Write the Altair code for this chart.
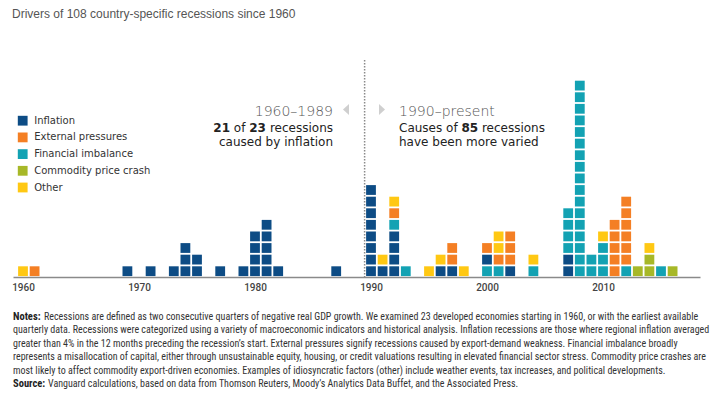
import altair as alt
import pandas as pd

# ---- data ----
drivers = ["Inflation", "External pressures", "Financial imbalance",
           "Commodity price crash", "Other"]
driver_codes = ["I", "E", "F", "C", "O"]
driver_colors = ["#0D4C85", "#F47F24", "#13A2B3", "#A7B828", "#FFC813"]

years = [1960, 1961, 1969, 1971, 1973, 1974, 1975, 1977, 1979, 1980, 1981,
         1982, 1987, 1990, 1991, 1992, 1993, 1995, 1996, 1997, 1998, 2000,
         2001, 2002, 2004, 2007, 2008, 2009, 2010, 2011, 2012, 2013, 2014,
         2015, 2016]
# recessions per year, bottom to top (codes above)
stacks = ["O", "E", "I", "I", "I", "III", "II", "I", "I", "IIII", "IIIII",
          "I", "I", "IIIIIIII", "IO", "IIIIFEO", "F", "O", "IO", "IEE", "O",
          "FIE", "FEOO", "IEEE", "FO", "IIFFFF", "FFFFFFFFFFFFFFFFF", "FF",
          "FFFO", "EEEEE", "FEEEEEE", "C", "CCO", "F", "C"]

tick_years = [1960, 1970, 1980, 1990, 2000, 2010]
era_split = [1989.45]

title_text = "Drivers of 108 country-specific recessions since 1960"
notes_lines = [
    "quarterly data. Recessions were categorized using a variety of macroeconomic indicators and historical analysis. Inflation recessions are those where regional inflation averaged",
    "greater than 4% in the 12 months preceding the recession\u2019s start. External pressures signify recessions caused by export-demand weakness. Financial imbalance broadly",
    "represents a misallocation of capital, either through unsustainable equity, housing, or credit valuations resulting in elevated financial sector stress. Commodity price crashes are",
    "most likely to affect commodity export-driven economies. Examples of idiosyncratic factors (other) include weather events, tax increases, and political developments.",
]
notes_first = "Recessions are defined as two consecutive quarters of negative real GDP growth. We examined 23 developed economies starting in 1960, or with the earliest available"
source_text = "Vanguard calculations, based on data from Thomson Reuters, Moody\u2019s Analytics Data Buffet, and the Associated Press."

# ---- build table ----
code_to_name = dict(zip(driver_codes, drivers))
rows = []
for yr, s in zip(years, stacks):
    for k, c in enumerate(s):
        rows.append({"year": yr, "level": k + 0.5, "driver": code_to_name[c]})
df = pd.DataFrame(rows)

PX_PER_YEAR = 11.6
PLOT_W, PLOT_H = 687, 269
x_dom = [1960 - 10 / PX_PER_YEAR, 1960 + 677 / PX_PER_YEAR]
y_dom = [0, PLOT_H / PX_PER_YEAR]

xscale = alt.Scale(domain=x_dom, nice=False, zero=False)

squares = alt.Chart(df).mark_square(size=96, opacity=1, filled=True).encode(
    x=alt.X("year:Q", scale=xscale,
            axis=alt.Axis(values=tick_years, format="d", ticks=False, grid=False,
                          domainColor="#8a8a8a", domainWidth=1.5,
                          labelFont="Roboto", labelFontWeight=500,
                          labelFontSize=10, labelColor="#444", labelPadding=5,
                          labelFlush=False, title=None)),
    y=alt.Y("level:Q", scale=alt.Scale(domain=y_dom, nice=False, zero=False),
            axis=None),
    color=alt.Color("driver:N",
                    scale=alt.Scale(domain=drivers, range=driver_colors),
                    legend=alt.Legend(orient="none", legendX=4.7, legendY=107.7,
                                      title=None, symbolType="square",
                                      symbolSize=96, labelFont="DejaVu Sans",
                                      labelFontSize=10, labelColor="#333",
                                      rowPadding=6.7, labelOffset=6.5,
                                      padding=0, symbolOpacity=1,
                                      symbolStrokeWidth=0)),
)

divider = alt.Chart(pd.DataFrame({"year": era_split})).mark_rule(
    color="#8a8a8a", strokeWidth=1.5, strokeDash=[1.5, 1.5]
).encode(x=alt.X("year:Q", scale=xscale), y=alt.value(52), y2=alt.value(PLOT_H))


def txt(s, x, y, size=12, weight="normal", color="#222", align="left",
        font="DejaVu Sans"):
    return alt.Chart(pd.DataFrame({"t": [s]})).mark_text(
        align=align, baseline="alphabetic", fontSize=size, fontWeight=weight,
        color=color, font=font
    ).encode(text="t:N", x=alt.value(x), y=alt.value(y))


def tri(path, x, y):
    return alt.Chart(pd.DataFrame({"t": [0]})).mark_point(
        shape=path, size=121, filled=True, opacity=1, color="#cfcfcf",
        strokeWidth=0
    ).encode(x=alt.value(x), y=alt.value(y))


layers = [squares, divider]
layers.append(txt(title_text, -1, 10, size=12, color="#555",
                  font="Liberation Sans"))
# left era annotation
layers.append(txt("1960\u20131989", 320, 108, size=14, color="#555",
                  weight=300, align="right"))
layers.append(txt("21", 217.0, 124, weight="bold", align="right"))
layers.append(txt("of", 232.4, 124, align="right"))
layers.append(txt("23", 252.9, 124, weight="bold", align="right"))
layers.append(txt("recessions", 320, 124, align="right"))
layers.append(txt("caused by inflation", 320, 138, align="right"))
# right era annotation
layers.append(txt("1990\u2013present", 386, 108, size=14, color="#555", weight=300))
layers.append(txt("Causes of", 386, 124))
layers.append(txt("85", 448.4, 124, weight="bold"))
layers.append(txt("recessions", 468.9, 124))
layers.append(txt("have been more varied", 386, 138))
# arrows
layers.append(tri("M0.55,-1L0.55,1L-0.55,0Z", 333, 101.5))
layers.append(tri("M-0.55,-1L-0.55,1L0.55,0Z", 369, 101.5))

# notes
NOTE_FONT = "Roboto Condensed"
NOTE_SIZE = 10
note_x = 0
base_y = 312
step = 13.4
layers.append(txt("Notes:", note_x, base_y, size=NOTE_SIZE + 0.5, weight="bold",
                  color="#222", font=NOTE_FONT))
layers.append(txt(notes_first, note_x + 31, base_y, size=NOTE_SIZE, color="#333",
                  font=NOTE_FONT))
for i, line in enumerate(notes_lines):
    layers.append(txt(line, note_x, base_y + step * (i + 1), size=NOTE_SIZE,
                      color="#333", font=NOTE_FONT))
layers.append(txt("Source:", note_x, base_y + step * 5, size=NOTE_SIZE + 0.5,
                  weight="bold", color="#222", font=NOTE_FONT))
layers.append(txt(source_text, note_x + 35, base_y + step * 5, size=NOTE_SIZE,
                  color="#333", font=NOTE_FONT))

chart = alt.layer(*layers).properties(
    width=PLOT_W, height=PLOT_H,
    autosize=alt.AutoSizeParams(type="none"),
    padding={"left": 5, "top": 0, "right": 13, "bottom": 113},
    background="white",
).configure_view(stroke=None)

chart.save("out.html", embed_options={"renderer": "svg", "actions": False})
